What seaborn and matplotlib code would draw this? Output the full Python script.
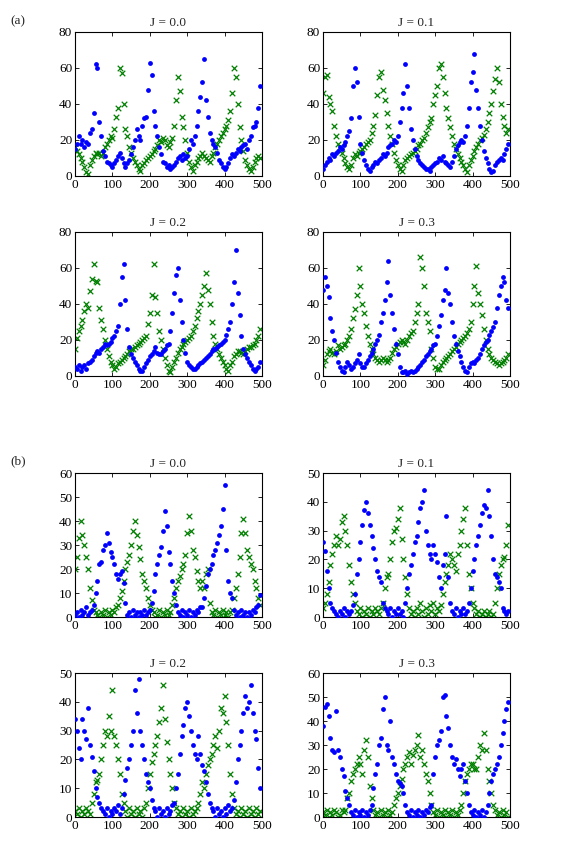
import numpy as np
import pandas as pd
import matplotlib
matplotlib.use("Agg")
import matplotlib.pyplot as plt
import seaborn as sns

t = list(range(0, 500, 5))

a_J00_blue = [15,18,22,18,20,16,19,18,24,26, 35,62,60,30,22,14,11,8,7,6,
              5,7,9,11,13,10,7,5,7,9, 12,16,20,26,22,20,28,32,33,48,
              63,56,36,28,22,16,12,8,7,5, 6,4,5,6,8,10,11,9,12,10,
              11,15,20,18,22,28,36,44,52,65, 42,33,24,20,18,16,13,9,7,5,
              4,5,7,10,12,11,13,15,14,16, 17,18,15,20,22,27,28,30,38,50]
a_J00_green = [16,14,12,10,8,5,2,1,6,9, 11,13,12,13,11,13,16,18,20,22,
               21,26,33,38,60,57,40,26,22,16, 13,10,8,6,4,3,6,7,9,10,
               11,12,14,15,17,20,19,21,20,17, 16,19,21,28,42,55,47,33,27,20,
               13,8,5,3,6,8,10,11,13,11, 10,9,8,11,13,16,18,20,22,24,
               26,28,31,36,46,60,55,40,27,20, 14,9,6,4,3,5,8,10,11,10]

a_J01_blue = [4,6,8,10,9,12,11,13,14,16, 15,17,19,22,25,32,50,60,52,33,
              18,13,9,6,4,3,5,6,8,7, 9,10,12,11,13,16,17,18,20,19,
              22,30,38,46,62,50,38,26,20,15, 11,9,7,6,5,4,4,3,5,6,
              7,8,10,9,11,8,7,6,5,8, 11,15,17,19,20,19,22,28,38,52,
              58,68,48,38,28,20,14,10,7,4, 2,3,6,8,9,10,9,12,15,18]
a_J01_green = [46,55,56,44,40,36,28,22,18,16, 13,10,7,5,4,6,10,12,11,13,
               14,15,16,18,19,20,24,28,34,45, 55,58,48,42,35,28,22,18,13,9,
               6,4,3,6,9,10,11,12,13,14, 15,17,18,20,21,24,27,30,32,40,
               45,50,60,62,55,46,38,32,27,22, 18,15,12,10,8,6,4,2,6,9,
               11,14,16,18,20,21,23,26,30,35, 40,47,54,60,52,40,33,28,24,26]

a_J02_blue = [5,4,6,3,5,6,4,7,8,9, 11,13,14,13,15,16,18,17,18,19,
              21,22,25,28,40,55,62,42,26,16, 12,10,8,6,4,3,3,5,7,9,
              11,12,14,16,13,12,12,14,15,17, 18,25,35,46,56,60,42,30,20,13,
              8,6,5,4,4,5,6,7,8,9, 10,11,12,14,15,15,16,17,18,19,
              20,23,26,30,40,52,70,46,34,22, 15,12,10,8,6,4,3,4,5,8]
a_J02_green = [15,21,25,28,31,36,40,38,47,54, 62,53,52,38,31,26,20,15,11,8,
               6,4,5,7,8,9,10,11,12,14, 15,15,16,17,18,19,20,21,22,29,
               35,45,62,44,35,25,20,15,10,6, 3,2,5,8,10,13,15,16,18,19,
               20,21,22,25,28,32,36,40,45,50, 57,48,40,30,22,18,15,12,10,8,
               6,4,3,6,8,11,12,14,14,13, 12,14,15,16,16,17,18,20,22,26]

a_J03_blue = [48,55,50,44,32,25,20,13,8,5, 3,2,5,8,6,4,5,7,9,12,
              7,5,5,7,9,11,13,15,18,20, 23,30,35,42,52,64,45,35,26,18,
              12,5,2,2,3,1,2,3,2,3, 4,5,6,8,9,11,12,14,15,17,
              18,22,28,34,42,48,60,46,40,30, 22,18,14,11,8,5,3,2,5,7,
              8,7,9,10,12,15,17,19,20,23, 25,27,30,38,45,50,55,52,42,38]
a_J03_green = [6,9,12,14,15,13,12,14,17,15, 16,17,18,20,22,26,32,37,45,60,
               50,40,35,28,22,18,15,12,10,9, 8,9,10,9,8,9,10,13,15,16,
               18,19,20,19,18,20,22,24,25,30, 35,40,66,60,50,35,30,25,15,10,
               5,4,4,6,8,9,10,11,12,14, 15,16,18,19,20,21,22,24,26,30,
               40,50,61,46,40,34,26,20,15,12, 10,9,8,7,6,7,8,9,10,12]

b_J00_blue = [1,2,0,3,1,2,4,1,2,3, 5,10,15,22,23,28,30,35,31,27,
              25,22,18,16,18,19,14,6,1,2, 0,3,1,2,0,2,1,3,1,2,
              3,6,11,18,22,26,29,36,44,38, 27,22,15,10,5,2,1,3,0,2,
              1,3,0,2,1,3,2,4,4,8, 13,18,20,22,26,28,31,34,38,45,
              55,28,15,10,8,3,1,2,0,3, 1,2,0,2,1,3,2,4,5,9]
b_J00_green = [20,25,33,40,34,30,25,20,12,7, 3,2,1,0,2,1,3,0,2,1,
               3,2,4,5,8,11,15,20,23,26, 30,36,40,34,29,24,18,15,12,8,
               5,3,2,0,1,3,0,2,1,3, 1,2,5,8,12,15,17,20,22,26,
               35,42,36,28,25,19,15,12,15,12, 18,20,6,2,1,3,0,2,1,3,
               1,2,0,2,3,8,12,18,25,35, 41,35,28,25,22,20,15,12,8,5]

b_J01_blue = [26,23,16,10,5,3,2,1,0,2, 1,3,0,2,1,2,4,8,15,20,
              26,32,37,40,36,32,28,24,20,16, 14,12,5,3,2,1,3,0,2,1,
              3,1,2,0,5,10,15,18,22,26, 28,33,38,40,44,30,25,22,20,25,
              22,19,14,10,18,22,35,14,5,2, 1,3,0,2,1,3,1,2,5,10,
              16,20,25,28,32,36,39,38,44,35, 28,20,15,14,12,10,3,2,1,2]
b_J01_green = [3,5,8,12,18,22,25,28,25,27, 33,35,30,25,18,12,8,5,2,1,
               3,0,2,1,3,0,2,1,3,2, 1,3,5,10,14,15,20,26,30,31,
               34,38,27,20,14,8,3,1,2,0, 3,1,5,2,0,3,1,4,2,5,
               1,3,2,4,8,12,15,18,22,20, 18,16,22,25,30,34,38,25,15,10,
               5,3,1,2,0,1,2,0,1,2, 0,1,5,10,15,18,20,21,25,32]

b_J02_blue = [34,30,24,20,34,30,27,38,25,21, 16,10,7,5,3,2,1,3,0,2,
              1,3,2,4,1,3,8,13,17,20, 25,30,44,36,48,30,25,20,15,12,
              10,6,3,2,0,3,1,2,0,3, 1,2,4,5,10,15,22,28,32,38,
              40,35,30,25,22,20,28,22,18,16, 12,8,5,3,2,0,3,1,2,0,
              3,1,4,2,3,6,12,20,25,30, 36,42,38,40,46,36,30,27,17,10]
b_J02_green = [2,1,3,0,2,1,3,2,1,5, 8,12,13,15,20,25,30,28,35,30,
               44,28,25,20,15,8,5,2,0,3, 1,2,0,3,1,2,0,3,5,10,
               15,19,22,25,28,33,38,46,34,26, 20,15,10,5,3,1,2,0,3,1,
               2,0,3,1,2,3,5,8,12,10, 15,18,20,22,25,28,24,30,38,36,
               42,33,25,15,8,3,1,2,0,3, 1,2,0,3,1,2,0,3,1,2]

b_J03_blue = [38,46,47,42,33,28,27,44,28,25, 20,17,11,8,5,2,1,3,0,2,
              1,3,0,2,1,3,5,12,18,22, 30,33,45,50,30,28,40,25,22,18,
              15,14,13,10,5,2,1,3,0,2, 1,3,0,2,1,3,2,4,5,18,
              25,30,32,36,50,51,42,37,30,25, 22,24,20,17,20,22,15,10,5,2,
              1,3,0,2,1,3,0,2,5,10, 15,18,20,22,25,30,35,40,45,48]
b_J03_green = [2,1,3,0,2,1,3,2,0,1, 3,2,3,8,10,15,18,20,22,25,
               22,18,28,32,25,13,8,3,1,2, 0,3,1,2,0,3,1,2,5,8,
               10,13,16,20,22,25,27,22,26,28, 30,34,25,28,22,18,15,10,5,2,
               1,3,0,2,1,3,0,2,1,3, 0,2,1,3,5,10,15,18,20,22,
               22,20,20,25,30,28,35,28,20,15, 10,5,3,1,2,0,3,1,2,0]

titles = ["J = 0.0", "J = 0.1", "J = 0.2", "J = 0.3"]
group_labels = ["(a)", "(b)"]
panels = [
    (a_J00_blue, a_J00_green), (a_J01_blue, a_J01_green),
    (a_J02_blue, a_J02_green), (a_J03_blue, a_J03_green),
    (b_J00_blue, b_J00_green), (b_J01_blue, b_J01_green),
    (b_J02_blue, b_J02_green), (b_J03_blue, b_J03_green),
]
ymax = [80, 80, 80, 80, 60, 50, 50, 60]
ystep = [20, 20, 20, 20, 10, 10, 10, 10]

# ---------------- style ----------------
sns.set_style("white")
plt.rcParams["font.family"] = ["Liberation Serif", "DejaVu Serif"]
plt.rcParams.update({
    "xtick.direction": "in", "ytick.direction": "in",
    "xtick.top": True, "ytick.right": True,
    "xtick.bottom": True, "ytick.left": True,
    "xtick.major.size": 3, "ytick.major.size": 3,
    "xtick.major.width": 0.6, "ytick.major.width": 0.6,
    "axes.linewidth": 0.8, "axes.edgecolor": "black",
    "xtick.color": "black", "ytick.color": "black",
    "font.size": 9.5,
})

W, H = 566, 864
fig = plt.figure(figsize=(W / 100, H / 100), dpi=100)
fig.patch.set_facecolor("white")

col_left = [75, 323]
row_top = [32, 232, 473, 673]
aw, ah = 187, 144

for i, (blue, green) in enumerate(panels):
    r, c = divmod(i, 2)
    left = col_left[c] / W
    bottom = 1 - (row_top[r] + ah) / H
    ax = fig.add_axes([left, bottom, aw / W, ah / H])
    df = pd.DataFrame({"t": t, "blue": blue, "green": green})
    sns.scatterplot(data=df, x="t", y="green", marker="x", color="#008000",
                    s=16, linewidth=0.9, ax=ax, zorder=2)
    sns.scatterplot(data=df, x="t", y="blue", marker="o", color="#0000ff",
                    s=12, linewidth=0, ax=ax, zorder=3)
    ax.set_xlim(0, 500)
    ax.set_ylim(0, ymax[i])
    ax.set_xticks(range(0, 501, 100))
    ax.set_yticks(range(0, ymax[i] + 1, ystep[i]))
    ax.set_xlabel("")
    ax.set_ylabel("")
    ax.tick_params(labelsize=9.5, pad=2)
    ax.set_title(titles[i % 4], fontsize=9.5, pad=4)
    for s in ax.spines.values():
        s.set_visible(True)
        s.set_color("black")

fig.text(18 / W, 1 - 21 / H, group_labels[0], fontsize=9.5, ha="center", va="center")
fig.text(18 / W, 1 - 461 / H, group_labels[1], fontsize=9.5, ha="center", va="center")

fig.savefig("out.png", dpi=100, facecolor="white")
